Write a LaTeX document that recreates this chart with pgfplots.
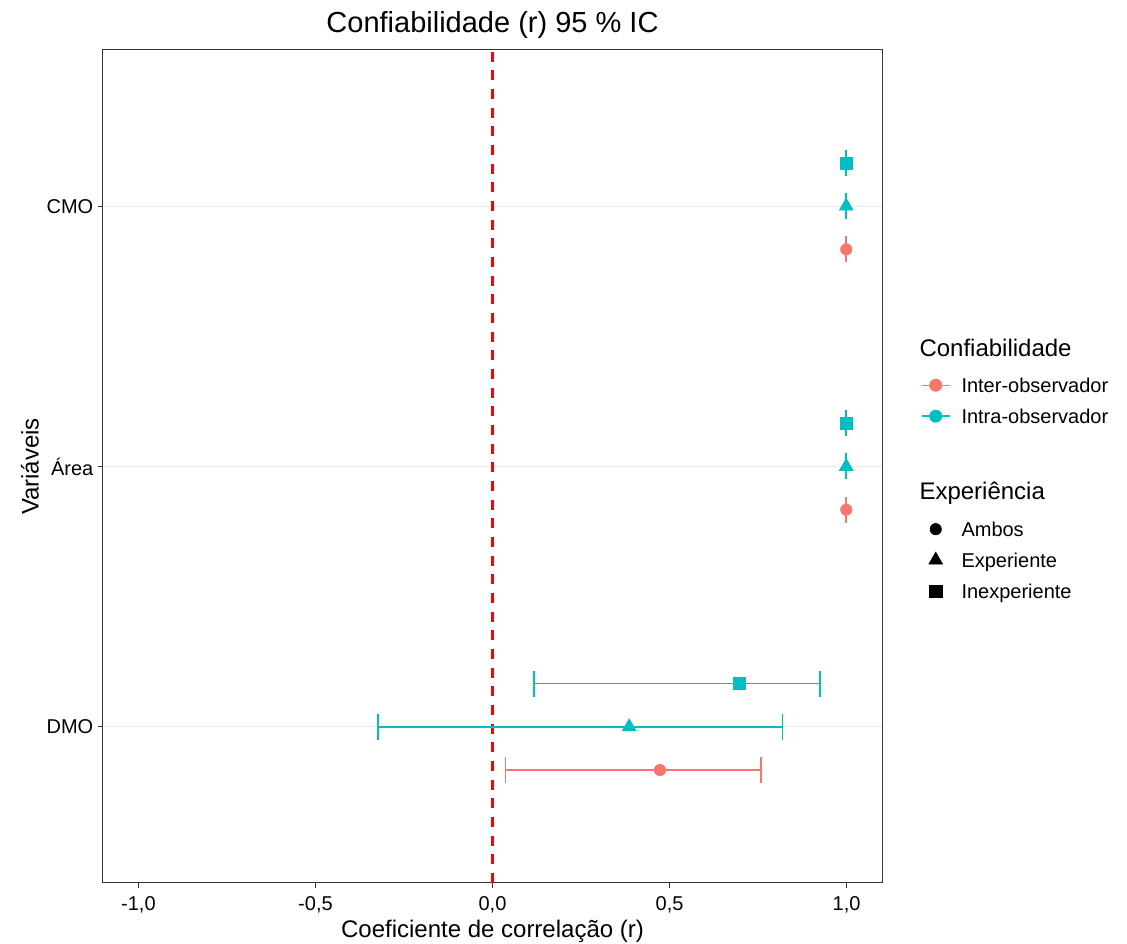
\documentclass[border=0pt]{standalone}
\usepackage{pgfplots}
\pgfplotsset{compat=1.18}
\usepackage{pgfplotstable}
\usepackage{fontspec}
\setmainfont{Liberation Sans}

\definecolor{cRed}{HTML}{F8766D}
\definecolor{cTeal}{HTML}{00BFC4}
\definecolor{grid}{HTML}{EBEBEB}
\definecolor{frame}{HTML}{333333}

% cat: 1 = DMO, 2 = Area, 3 = CMO ; r with lower / upper CI
\pgfplotstableread{
cat r lo hi
1 0.473 0.036 0.758
2 0.999 0.997 1.000
3 0.999 0.997 1.000
}\interambos

\pgfplotstableread{
cat r lo hi
1 0.386 -0.324 0.819
2 0.999 0.997 1.000
3 0.999 0.997 1.000
}\intraexp

\pgfplotstableread{
cat r lo hi
1 0.696 0.117 0.925
2 0.999 0.997 1.000
3 0.999 0.997 1.000
}\intrainexp

\begin{document}
\begin{tikzpicture}
\begin{axis}[
    scale only axis,
    width=584.25pt, height=624.75pt,
    xmin=-1.1, xmax=1.1,
    ymin=0.4, ymax=3.6,
    xtick={-1,-0.5,0,0.5,1},
    xticklabels={{-1,0},{-0,5},{0,0},{0,5},{1,0}},
    ytick={1,2,3},
    yticklabels={DMO,Área,CMO},
    tick align=outside,
    tick pos=left,
    major tick length=3.75pt,
    tick style={color=frame, line width=0.75pt},
    axis line style={draw=frame, line width=0.75pt},
    ymajorgrids=true,
    grid style={color=grid, line width=0.75pt},
    ticklabel style={font=\fontsize{15}{18}\selectfont, text=black},
    xticklabel style={anchor=base, yshift=-17.25pt},
    title={Confiabilidade (r) 95 \% IC},
    title style={at={(0.5,1.0108)}, anchor=base, font=\fontsize{21.75}{26}\selectfont},
    xlabel={Coeficiente de correlação (r)},
    xlabel style={at={(0.5,-0.0660)}, anchor=base, font=\fontsize{18}{22}\selectfont},
    ylabel={Variáveis},
    ylabel style={at={(-0.0937,0.5)}, anchor=center, font=\fontsize{18}{22}\selectfont},
    legend cell align=left,
    legend style={
        at={(1.050,0.655)}, anchor=north west,
        draw=none, fill=none, inner sep=0pt, outer sep=0pt,
        row sep=0pt, column sep=8.25pt,
        nodes={inner sep=0pt, text height=14.3pt, text depth=8.9pt},
        font=\fontsize{15}{18}\selectfont,
    },
    legend image code/.code={
        \draw[yshift=2.7pt, mark repeat=2, mark phase=2]
            plot coordinates {(0cm,0cm) (0.37cm,0cm) (0.74cm,0cm)};
    },
    clip=false,
]

% reference line at r = 0
\addplot[color=red, line width=2.6pt, dash pattern=on 7.5pt off 6.5pt, forget plot]
    coordinates {(0,0.4) (0,3.6)};

% Inter-observador, Ambos
\addplot[only marks, mark=*, mark size=4.3pt, color=cRed, forget plot,
    error bars/.cd, x dir=both, x explicit,
    error bar style={line width=1.1pt, color=cRed},
    error mark options={rotate=90, mark size=9.75pt, line width=1.1pt, color=cRed}]
    table[x=r, y expr=\thisrow{cat}-0.166,
          x error plus expr=\thisrow{hi}-\thisrow{r},
          x error minus expr=\thisrow{r}-\thisrow{lo}] {\interambos};

% Intra-observador, Experiente
\addplot[only marks, mark=triangle*, mark size=6pt, color=cTeal, forget plot,
    error bars/.cd, x dir=both, x explicit,
    error bar style={line width=1.1pt, color=cTeal},
    error mark options={rotate=90, mark size=9.75pt, line width=1.1pt, color=cTeal}]
    table[x=r, y expr=\thisrow{cat},
          x error plus expr=\thisrow{hi}-\thisrow{r},
          x error minus expr=\thisrow{r}-\thisrow{lo}] {\intraexp};

% Intra-observador, Inexperiente
\addplot[only marks, mark=square*, mark size=4.6pt, color=cTeal, forget plot,
    error bars/.cd, x dir=both, x explicit,
    error bar style={line width=1.1pt, color=cTeal},
    error mark options={rotate=90, mark size=9.75pt, line width=1.1pt, color=cTeal}]
    table[x=r, y expr=\thisrow{cat}+0.166,
          x error plus expr=\thisrow{hi}-\thisrow{r},
          x error minus expr=\thisrow{r}-\thisrow{lo}] {\intrainexp};

% legend
\addlegendimage{empty legend}
\addlegendentry[text depth=12.7pt, font=\fontsize{18}{22}\selectfont]{\hspace*{-31.5pt}Confiabilidade}
\addlegendimage{color=cRed, line width=1.1pt, mark=*, mark size=4.3pt}
\addlegendentry{Inter-observador}
\addlegendimage{color=cTeal, line width=1.1pt, mark=*, mark size=4.3pt}
\addlegendentry{Intra-observador}
\addlegendimage{empty legend}
\addlegendentry[text height=48.1pt, text depth=13.45pt, font=\fontsize{18}{22}\selectfont]{\hspace*{-31.5pt}Experiência}
\addlegendimage{black, only marks, mark=*, mark size=4.3pt}
\addlegendentry{Ambos}
\addlegendimage{black, only marks, mark=triangle*, mark size=6pt}
\addlegendentry{Experiente}
\addlegendimage{black, only marks, mark=square*, mark size=4.6pt}
\addlegendentry{Inexperiente}
\end{axis}
\pgfresetboundingbox
\useasboundingbox ([xshift=-77.25pt, yshift=-45.75pt]current axis.south west)
    rectangle ([xshift=183.75pt, yshift=37.5pt]current axis.north east);
\end{tikzpicture}
\end{document}
